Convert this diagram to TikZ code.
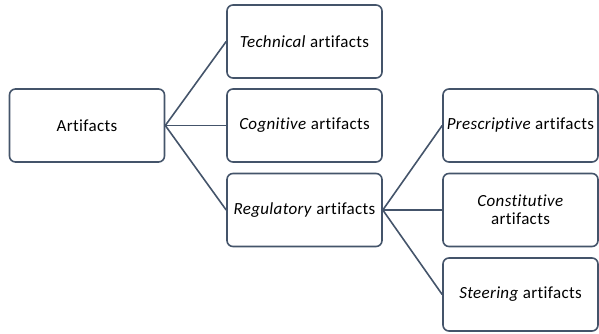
\documentclass[tikz,border=0pt]{standalone}
\usepackage{fontspec}
\setmainfont[Ligatures=NoCommon,LetterSpace=2]{Carlito}
\definecolor{edge}{HTML}{44546A}
\begin{document}
\begin{tikzpicture}[x=1pt,y=-1pt,
  box/.style={draw=edge, line width=1.6pt, rounded corners=6pt, fill=white,
    minimum width=155pt, minimum height=73pt, align=center, font=\fontsize{17}{18}\selectfont, inner sep=2pt},
  link/.style={draw=edge, line width=1.6pt}]
\useasboundingbox (0,0) rectangle (599,333);
\node[box] (art) at (87,125.5) {Artifacts};
\node[box] (tech) at (304.5,41.5) {\textit{Technical} artifacts};
\node[box] (cog) at (304.5,125.5) {\textit{Cognitive} artifacts};
\node[box] (reg) at (304.5,210) {\textit{Regulatory} artifacts};
\node[box] (pre) at (520.5,125.5) {\textit{Prescriptive} artifacts};
\node[box] (con) at (520.5,210) {\textit{Constitutive}\\artifacts};
\node[box] (ste) at (520.5,294.5) {\textit{Steering} artifacts};
\draw[link] (art.east) -- (tech.west);
\draw[link] (art.east) -- (cog.west);
\draw[link] (art.east) -- (reg.west);
\draw[link] (reg.east) -- (pre.west);
\draw[link] (reg.east) -- (con.west);
\draw[link] (reg.east) -- (ste.west);
\end{tikzpicture}
\end{document}
